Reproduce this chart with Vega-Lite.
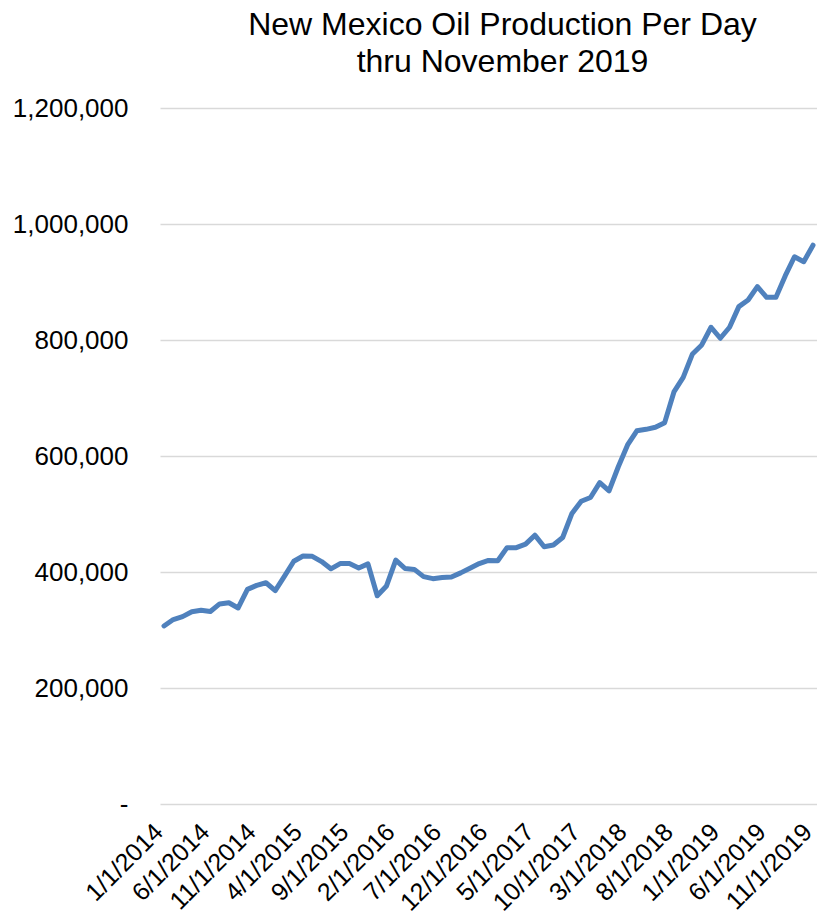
{
  "$schema": "https://vega.github.io/schema/vega-lite/v6.json",
  "autosize": "none",
  "width": 657,
  "height": 696,
  "padding": {"left": 160, "top": 108, "right": 0, "bottom": 117},
  "background": "white",
  "config": {"view": {"stroke": null}, "font": "Liberation Sans"},
  "title": {
    "text": ["New Mexico Oil Production Per Day", "thru November 2019"],
    "font": "Liberation Sans",
    "fontSize": 32,
    "fontWeight": "normal",
    "color": "#000000",
    "anchor": "middle",
    "dx": 14,
    "lineHeight": 37,
    "offset": 16
  },
  "data": {
    "values": [
      {"month": "1/1/2014", "bpd": 307000},
      {"month": "2/1/2014", "bpd": 318000},
      {"month": "3/1/2014", "bpd": 323000},
      {"month": "4/1/2014", "bpd": 331500},
      {"month": "5/1/2014", "bpd": 334000},
      {"month": "6/1/2014", "bpd": 332000},
      {"month": "7/1/2014", "bpd": 345000},
      {"month": "8/1/2014", "bpd": 347000},
      {"month": "9/1/2014", "bpd": 338000},
      {"month": "10/1/2014", "bpd": 370000},
      {"month": "11/1/2014", "bpd": 377000},
      {"month": "12/1/2014", "bpd": 381500},
      {"month": "1/1/2015", "bpd": 368000},
      {"month": "2/1/2015", "bpd": 393000},
      {"month": "3/1/2015", "bpd": 418500},
      {"month": "4/1/2015", "bpd": 427500},
      {"month": "5/1/2015", "bpd": 427000},
      {"month": "6/1/2015", "bpd": 418000},
      {"month": "7/1/2015", "bpd": 405500},
      {"month": "8/1/2015", "bpd": 414500},
      {"month": "9/1/2015", "bpd": 414500},
      {"month": "10/1/2015", "bpd": 407000},
      {"month": "11/1/2015", "bpd": 414000},
      {"month": "12/1/2015", "bpd": 359000},
      {"month": "1/1/2016", "bpd": 376000},
      {"month": "2/1/2016", "bpd": 420500},
      {"month": "3/1/2016", "bpd": 406000},
      {"month": "4/1/2016", "bpd": 404500},
      {"month": "5/1/2016", "bpd": 392000},
      {"month": "6/1/2016", "bpd": 388500},
      {"month": "7/1/2016", "bpd": 390500},
      {"month": "8/1/2016", "bpd": 391500},
      {"month": "9/1/2016", "bpd": 398500},
      {"month": "10/1/2016", "bpd": 406500},
      {"month": "11/1/2016", "bpd": 414500},
      {"month": "12/1/2016", "bpd": 420000},
      {"month": "1/1/2017", "bpd": 419500},
      {"month": "2/1/2017", "bpd": 442000},
      {"month": "3/1/2017", "bpd": 442000},
      {"month": "4/1/2017", "bpd": 448000},
      {"month": "5/1/2017", "bpd": 463500},
      {"month": "6/1/2017", "bpd": 443500},
      {"month": "7/1/2017", "bpd": 446500},
      {"month": "8/1/2017", "bpd": 459500},
      {"month": "9/1/2017", "bpd": 501000},
      {"month": "10/1/2017", "bpd": 522000},
      {"month": "11/1/2017", "bpd": 528500},
      {"month": "12/1/2017", "bpd": 554000},
      {"month": "1/1/2018", "bpd": 540000},
      {"month": "2/1/2018", "bpd": 581500},
      {"month": "3/1/2018", "bpd": 619000},
      {"month": "4/1/2018", "bpd": 643500},
      {"month": "5/1/2018", "bpd": 646000},
      {"month": "6/1/2018", "bpd": 649500},
      {"month": "7/1/2018", "bpd": 657500},
      {"month": "8/1/2018", "bpd": 710500},
      {"month": "9/1/2018", "bpd": 735500},
      {"month": "10/1/2018", "bpd": 776000},
      {"month": "11/1/2018", "bpd": 791500},
      {"month": "12/1/2018", "bpd": 822000},
      {"month": "1/1/2019", "bpd": 803000},
      {"month": "2/1/2019", "bpd": 822000},
      {"month": "3/1/2019", "bpd": 857500},
      {"month": "4/1/2019", "bpd": 869000},
      {"month": "5/1/2019", "bpd": 892000},
      {"month": "6/1/2019", "bpd": 873500},
      {"month": "7/1/2019", "bpd": 873500},
      {"month": "8/1/2019", "bpd": 910500},
      {"month": "9/1/2019", "bpd": 943500},
      {"month": "10/1/2019", "bpd": 935000},
      {"month": "11/1/2019", "bpd": 963500}
    ]
  },
  "mark": {"type": "line", "color": "#4F81BD", "strokeWidth": 5, "strokeCap": "round", "strokeJoin": "round"},
  "encoding": {
    "x": {
      "field": "month",
      "type": "ordinal",
      "sort": null,
      "scale": {"type": "point", "padding": 0.43},
      "axis": {
        "title": null,
        "values": ["1/1/2014", "6/1/2014", "11/1/2014", "4/1/2015", "9/1/2015", "2/1/2016", "7/1/2016", "12/1/2016", "5/1/2017", "10/1/2017", "3/1/2018", "8/1/2018", "1/1/2019", "6/1/2019", "11/1/2019"],
        "labelAngle": -45,
        "labelFont": "Liberation Sans",
        "labelFontSize": 25,
        "labelColor": "#000000",
        "labelPadding": 15,
        "labelOffset": -14,
        "labelOverlap": false,
        "labelBound": false,
        "domain": false,
        "ticks": false,
        "grid": false
      }
    },
    "y": {
      "field": "bpd",
      "type": "quantitative",
      "scale": {"domain": [0, 1200000], "nice": false, "zero": true},
      "axis": {
        "title": null,
        "values": [0, 200000, 400000, 600000, 800000, 1000000, 1200000],
        "labelExpr": "datum.value == 0 ? '-\u00a0\u00a0' : format(datum.value, ',')",
        "labelFont": "Liberation Sans",
        "labelFontSize": 26,
        "labelColor": "#000000",
        "labelPadding": 32,
        "domain": false,
        "ticks": false,
        "grid": true,
        "gridColor": "#D9D9D9",
        "gridWidth": 1.5
      }
    }
  }
}
